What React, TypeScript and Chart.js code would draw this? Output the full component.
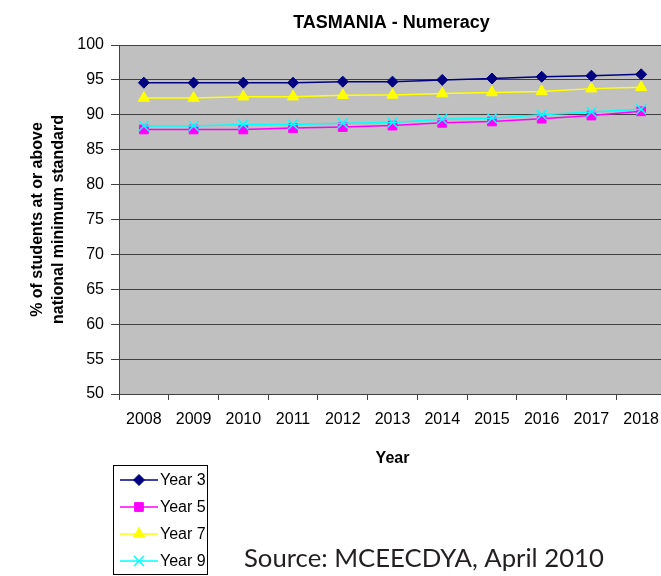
import React, { useEffect, useRef } from 'react';
import { Chart, registerables } from 'chart.js';
import { drawPoint } from 'chart.js/helpers';

Chart.register(...registerables);

const years = ['2008', '2009', '2010', '2011', '2012', '2013', '2014', '2015', '2016', '2017', '2018'];
const year3 = [94.6, 94.6, 94.6, 94.6, 94.75, 94.75, 95.0, 95.2, 95.45, 95.6, 95.8];
const year5 = [87.9, 87.9, 87.9, 88.1, 88.25, 88.45, 88.85, 89.05, 89.45, 89.9, 90.5];
const year7 = [92.4, 92.4, 92.6, 92.6, 92.8, 92.85, 93.05, 93.2, 93.35, 93.75, 93.95];
const year9 = [88.4, 88.4, 88.6, 88.6, 88.8, 88.9, 89.35, 89.5, 90.0, 90.4, 90.8];
const seriesNames = ['Year 3', 'Year 5', 'Year 7', 'Year 9'];
const yMin = 50;
const yMax = 100;
const yStep = 5;
const chartTitle = 'TASMANIA - Numeracy';
const xTitle = 'Year';
const yTitle = ['% of students at or above', 'national minimum standard'];
const sourceNote = 'Source: MCEECDYA, April 2010';

const FONT = '"Liberation Sans", Arial, sans-serif';

const decorPlugin = {
  id: 'decor',
  beforeDraw(chart: any) {
    const { ctx, chartArea: a } = chart;
    ctx.save();
    ctx.fillStyle = '#ffffff';
    ctx.fillRect(0, 0, chart.width, chart.height);
    ctx.fillStyle = '#C0C0C0';
    ctx.fillRect(a.left, a.top, a.right - a.left, a.bottom - a.top);
    ctx.restore();
  },
  afterDraw(chart: any) {
    const { ctx, chartArea: a } = chart;
    ctx.save();
    // title
    ctx.fillStyle = '#000';
    ctx.font = `bold 18px ${FONT}`;
    ctx.textAlign = 'center';
    ctx.textBaseline = 'middle';
    ctx.fillText(chartTitle, (a.left + a.right) / 2 - 1, 23);

    // legend
    const lx = 113.5, ly = 465.5, lw = 94, lh = 109;
    ctx.strokeStyle = '#000';
    ctx.lineWidth = 1;
    ctx.strokeRect(lx, ly, lw, lh);
    chart.data.datasets.forEach((ds: any, i: number) => {
      const y = 480 + i * 27;
      ctx.strokeStyle = ds.borderColor;
      ctx.lineWidth = ds.borderWidth;
      ctx.beginPath();
      ctx.moveTo(120, y);
      ctx.lineTo(158, y);
      ctx.stroke();
      ctx.fillStyle = ds.pointBackgroundColor;
      ctx.strokeStyle = ds.pointBorderColor;
      ctx.lineWidth = ds.pointBorderWidth;
      drawPoint(ctx, { pointStyle: ds.pointStyle, radius: ds.pointRadius, rotation: 0, borderWidth: ds.pointBorderWidth } as any, 139, y);
      ctx.fillStyle = '#000';
      ctx.font = `16px ${FONT}`;
      ctx.textAlign = 'left';
      ctx.textBaseline = 'middle';
      ctx.fillText(ds.label, 160, y + 1);
    });

    // source note
    let size = 26;
    ctx.font = `${size}px Lato, "Open Sans", sans-serif`;
    const w = ctx.measureText(sourceNote).width;
    size = size * 360 / w;
    ctx.font = `${size}px Lato, "Open Sans", sans-serif`;
    ctx.fillStyle = '#231F20';
    ctx.textAlign = 'left';
    ctx.textBaseline = 'alphabetic';
    ctx.fillText(sourceNote, 244, 567);
    ctx.restore();
  },
};

export default function App() {
  const ref = useRef<HTMLCanvasElement>(null);

  useEffect(() => {
    if (!ref.current) return;
    const mk = (label: string, data: number[], color: string, style: string, radius: number, order: number, bw = 1) => ({
      label,
      data,
      borderColor: color,
      backgroundColor: color,
      borderWidth: 1.5,
      pointStyle: style,
      pointRadius: radius,
      pointBackgroundColor: color,
      pointBorderColor: color,
      pointBorderWidth: bw,
      order,
      tension: 0,
    });
    const chart = new Chart(ref.current, {
      type: 'line',
      data: {
        labels: years,
        datasets: [
          mk(seriesNames[0], year3, '#000080', 'rectRot', 5.5, 3),
          mk(seriesNames[1], year5, '#FF00FF', 'rect', 6.2, 2),
          mk(seriesNames[2], year7, '#FFFF00', 'triangle', 6.5, 1),
          mk(seriesNames[3], year9, '#00FFFF', 'crossRot', 7, 0, 1.5),
        ] as any,
      },
      options: {
        responsive: false,
        animation: false,
        devicePixelRatio: 1,
        layout: { padding: { left: 0, top: 45, right: 14, bottom: 102 } },
        plugins: {
          legend: { display: false },
          title: { display: false },
          tooltip: { enabled: false },
        },
        scales: {
          x: {
            type: 'category',
            offset: true,
            grid: { offset: true, drawOnChartArea: false, drawTicks: true, tickLength: 6, color: '#404040' },
            border: { display: true, color: '#404040', width: 1 },
            ticks: { font: { family: FONT, size: 16 }, color: '#000', padding: 10, maxRotation: 0, autoSkip: false },
            title: { display: true, text: xTitle, font: { family: FONT, size: 16, weight: 'bold' }, color: '#000', padding: { top: 0, bottom: 6 } },
            afterFit(s: any) { s.height = 80; },
          },
          y: {
            min: yMin,
            max: yMax,
            ticks: { stepSize: yStep, font: { family: FONT, size: 16 }, color: '#000', padding: 7 },
            grid: { color: '#404040', tickLength: 8, drawTicks: true },
            border: { display: true, color: '#404040', width: 1 },
            title: { display: true, text: yTitle, font: { family: FONT, size: 16, weight: 'bold', lineHeight: 1.3 }, color: '#000', padding: { top: 27, bottom: 0 } },
            afterFit(s: any) { s.width = 119; },
          },
        },
      } as any,
      plugins: [decorPlugin],
    });
    return () => chart.destroy();
  }, []);

  return (
    <div style={{ position: 'absolute', left: 0, top: 0, width: 661, height: 576, overflow: 'hidden', background: '#fff' }}>
      <canvas ref={ref} width={680} height={576} style={{ display: 'block' }} />
    </div>
  );
}
